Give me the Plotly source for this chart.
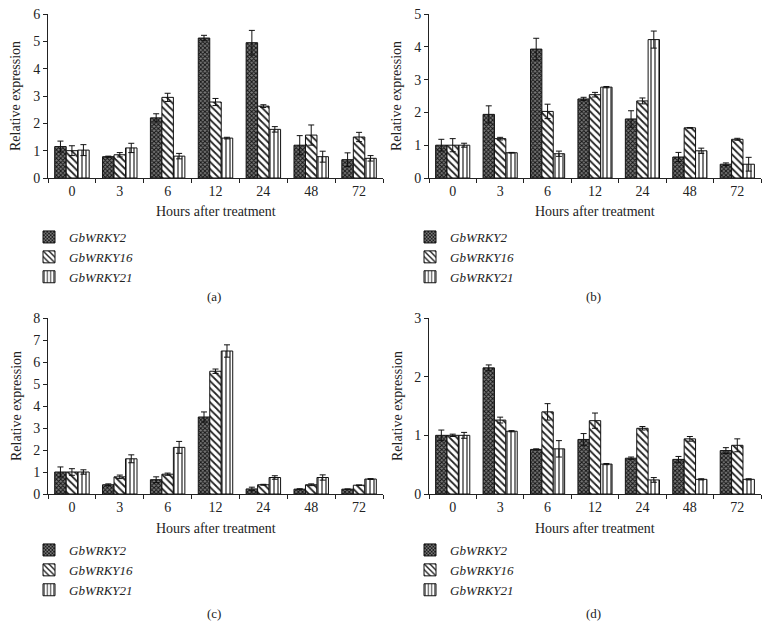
import plotly.graph_objects as go

hours = ["0", "3", "6", "12", "24", "48", "72"]
genes = ["GbWRKY2", "GbWRKY16", "GbWRKY21"]

# Panel (a)
a_wrky2 = [1.15, 0.78, 2.20, 5.12, 4.95, 1.20, 0.67]
a_wrky2_err = [0.20, 0.02, 0.15, 0.10, 0.45, 0.35, 0.25]
a_wrky16 = [1.00, 0.85, 2.95, 2.78, 2.63, 1.57, 1.50]
a_wrky16_err = [0.18, 0.08, 0.15, 0.13, 0.05, 0.37, 0.17]
a_wrky21 = [1.02, 1.10, 0.80, 1.46, 1.78, 0.78, 0.72]
a_wrky21_err = [0.20, 0.17, 0.10, 0.03, 0.10, 0.20, 0.10]

# Panel (b)
b_wrky2 = [1.00, 1.94, 3.93, 2.41, 1.80, 0.64, 0.42]
b_wrky2_err = [0.18, 0.26, 0.33, 0.05, 0.25, 0.14, 0.04]
b_wrky16 = [1.00, 1.20, 2.03, 2.54, 2.35, 1.53, 1.18]
b_wrky16_err = [0.20, 0.04, 0.22, 0.07, 0.09, 0.01, 0.03]
b_wrky21 = [1.00, 0.77, 0.74, 2.77, 4.22, 0.83, 0.42]
b_wrky21_err = [0.06, 0.01, 0.08, 0.02, 0.26, 0.08, 0.21]

# Panel (c)
c_wrky2 = [1.00, 0.42, 0.65, 3.50, 0.23, 0.22, 0.22]
c_wrky2_err = [0.23, 0.04, 0.13, 0.23, 0.08, 0.02, 0.01]
c_wrky16 = [1.00, 0.78, 0.90, 5.58, 0.42, 0.42, 0.40]
c_wrky16_err = [0.15, 0.08, 0.05, 0.10, 0.02, 0.04, 0.01]
c_wrky21 = [1.00, 1.60, 2.12, 6.50, 0.75, 0.75, 0.68]
c_wrky21_err = [0.10, 0.18, 0.27, 0.28, 0.08, 0.12, 0.02]

# Panel (d)
d_wrky2 = [1.00, 2.15, 0.76, 0.93, 0.61, 0.59, 0.74]
d_wrky2_err = [0.09, 0.05, 0.01, 0.10, 0.02, 0.05, 0.05]
d_wrky16 = [1.00, 1.26, 1.40, 1.25, 1.12, 0.94, 0.83]
d_wrky16_err = [0.02, 0.05, 0.14, 0.13, 0.03, 0.04, 0.11]
d_wrky21 = [1.00, 1.07, 0.77, 0.51, 0.24, 0.25, 0.25]
d_wrky21_err = [0.05, 0.01, 0.14, 0.01, 0.04, 0.01, 0.01]

y_max = [6, 5, 8, 3]
panel_labels = ["(a)", "(b)", "(c)", "(d)"]

panels = [
    [(a_wrky2, a_wrky2_err), (a_wrky16, a_wrky16_err), (a_wrky21, a_wrky21_err)],
    [(b_wrky2, b_wrky2_err), (b_wrky16, b_wrky16_err), (b_wrky21, b_wrky21_err)],
    [(c_wrky2, c_wrky2_err), (c_wrky16, c_wrky16_err), (c_wrky21, c_wrky21_err)],
    [(d_wrky2, d_wrky2_err), (d_wrky16, d_wrky16_err), (d_wrky21, d_wrky21_err)],
]

W, H = 772, 628
FONT = "Liberation Serif, Times New Roman, serif"


def px(x):
    return x / W


def py(y):
    return 1 - y / H


patterns = [
    dict(shape="x", size=3, solidity=0.55, fgcolor="#151515", bgcolor="#7a7a7a", fillmode="replace"),
    dict(shape="\\", size=5, solidity=0.35, fgcolor="#222222", bgcolor="#ffffff", fillmode="replace"),
    dict(shape="|", size=4, solidity=0.3, fgcolor="#222222", bgcolor="#ffffff", fillmode="replace"),
]

# screen pixel boxes: (x0, x1, ytop, ybottom, legend offset)
boxes = [
    (48, 383, 14, 178, 44),
    (429, 761, 14, 178, 44),
    (48, 383, 318, 494, 41),
    (429, 761, 318, 494, 41),
]

fig = go.Figure()
legend_names = ["legend", "legend2", "legend3", "legend4"]

for p, (series, box) in enumerate(zip(panels, boxes)):
    sfx = "" if p == 0 else str(p + 1)
    for g, (vals, errs) in enumerate(series):
        fig.add_trace(go.Bar(
            x=hours, y=vals, name=genes[g],
            xaxis="x" + sfx, yaxis="y" + sfx,
            marker=dict(color="#ffffff", line=dict(color="#111111", width=1), pattern=patterns[g]),
            error_y=dict(type="data", array=errs, visible=True, color="#111111", thickness=1, width=3),
            legend=legend_names[p],
        ))
    x0, x1, yt, yb, loff = box
    fig.layout["xaxis" + sfx] = dict(
        domain=[px(x0), px(x1)], anchor="y" + sfx, type="category",
        showline=True, linecolor="#222222", linewidth=1,
        ticks="outside", ticklen=4, tickcolor="#222222", tickson="boundaries",
        tickfont=dict(family=FONT, size=14, color="#222222"),
        showgrid=False, zeroline=False, fixedrange=True, automargin=False,
    )
    fig.layout["yaxis" + sfx] = dict(
        domain=[py(yb), py(yt)], anchor="x" + sfx,
        range=[0, y_max[p]], dtick=1,
        showline=True, linecolor="#222222", linewidth=1,
        ticks="outside", ticklen=4, tickcolor="#222222",
        tickfont=dict(family=FONT, size=14, color="#222222"),
        showgrid=False, zeroline=False, automargin=False,
    )
    xc = (x0 + x1) / 2
    fig.add_annotation(text="Relative expression", x=px(x0 - 32), y=py((yt + yb) / 2),
                       xref="paper", yref="paper", textangle=-90, showarrow=False,
                       font=dict(family=FONT, size=14, color="#222222"), xanchor="center", yanchor="middle")
    fig.add_annotation(text="Hours after treatment", x=px(xc), y=py(yb + 34),
                       xref="paper", yref="paper", showarrow=False,
                       font=dict(family=FONT, size=14, color="#222222"), xanchor="center", yanchor="middle")
    fig.add_annotation(text=panel_labels[p], x=px(xc - 2), y=py(yb + 119),
                       xref="paper", yref="paper", showarrow=False,
                       font=dict(family=FONT, size=13, color="#222222"), xanchor="center", yanchor="middle")
    fig.layout[legend_names[p]] = dict(
        x=px(x0 - 19), y=py(yb + loff), xanchor="left", yanchor="top",
        orientation="v", bgcolor="rgba(0,0,0,0)", tracegroupgap=0,
        font=dict(family=FONT, size=13, color="#222222", style="italic"),
        itemwidth=30,
    )

fig.update_layout(
    width=W, height=H, margin=dict(l=0, r=0, t=0, b=0, autoexpand=False),
    plot_bgcolor="white", paper_bgcolor="white",
    barmode="group", bargap=0.28, bargroupgap=0,
    font=dict(family=FONT, color="#222222"),
)

fig.write_html(
    "out.html",
    config={"displayModeBar": False},
    post_script="document.body.style.margin='0';document.documentElement.style.overflow='hidden';",
)
